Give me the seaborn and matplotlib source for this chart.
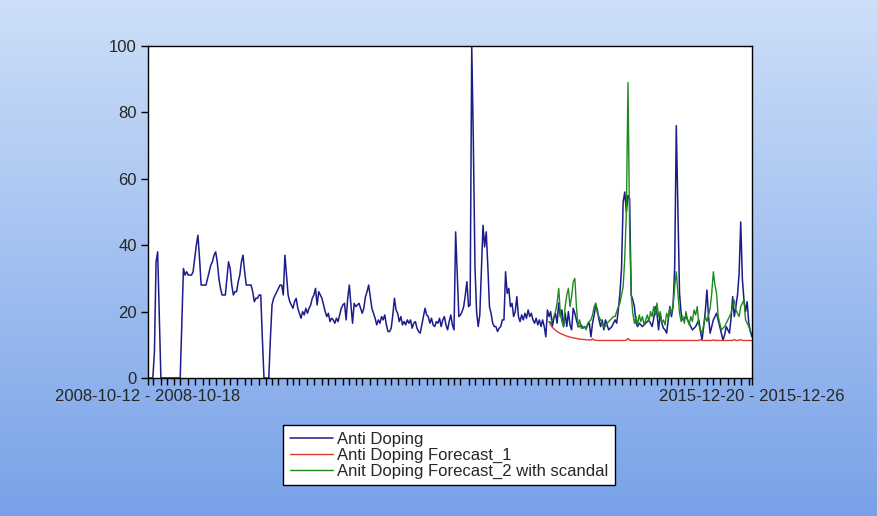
import numpy as np
import pandas as pd
import matplotlib
matplotlib.use("Agg")
import matplotlib.pyplot as plt
import seaborn as sns

# weekly series, first week 2008-10-12
start_date = "2008-10-12"

anti_doping = [
    0, 0, 0, 0, 8, 35, 38, 19, 0, 0,
    0, 0, 0, 0, 0, 0, 0, 0, 0, 0,
    0, 16, 33, 31, 32, 31, 31, 31, 32, 36,
    40, 43, 36, 28, 28, 28, 28, 30, 32, 34,
    35, 37, 38, 35, 30, 27, 25, 25, 25, 30,
    35, 33, 28, 25, 26, 26, 29, 31, 35, 37,
    32, 28, 28, 28, 28, 26, 23, 24, 24, 25,
    25, 12, 0, 0, 0, 0, 12, 22, 24, 25,
    26, 27, 28, 28, 25, 37, 31, 25, 23, 22,
    21, 23, 24, 21, 19.5, 18, 20, 19, 21, 19.5,
    21, 22, 24, 25, 27, 22, 26, 25, 24, 22,
    20, 18.5, 19.5, 17, 18, 17.5, 16.5, 18, 17, 19,
    21, 22, 22.5, 17.5, 24, 28, 22, 16.5, 22.5, 21.5,
    22, 22.5, 21, 19.5, 21, 24.5, 26, 28, 24.5, 21,
    19.5, 18, 16, 17.5, 16.5, 18.5, 17.5, 19, 16, 14,
    14, 15, 19, 24, 20.5, 19.5, 17, 18.5, 16, 17,
    16, 17.5, 16.5, 17.5, 15, 16.5, 17, 15, 14, 13.5,
    16, 18.5, 21, 19, 18.5, 16.5, 18, 16, 15.5, 17,
    16.5, 18, 15.5, 17.5, 18.5, 16, 14.5, 17, 19, 16,
    14.5, 44, 31, 18.5, 19, 20, 21.5, 25, 29, 21.5,
    22, 100, 71, 33.5, 20, 15.5, 19, 32.5, 46, 39.5,
    44, 33.5, 21.5, 19.5, 16.5, 15.5, 15.5, 14, 15, 15.5,
    17.5, 17.5, 32, 25.5, 27, 21.5, 22.5, 18.5, 20, 24.5,
    18.5, 17, 19, 17.5, 19.5, 18, 20.5, 18.5, 19.5, 17.5,
    16.5, 18, 16, 17.5, 15.5, 17.5, 15.5, 12.4, 20.5, 18.5,
    20, 15.5, 18, 19.5, 16.5, 22.6, 18.5, 20.5, 15.5, 19.5,
    15.5, 20, 16, 14.5, 21, 19.5, 17.5, 15.5, 15.5, 16,
    15, 15.5, 15, 16, 16.5, 12.4, 16.5, 19, 22, 20.5,
    17.5, 15.5, 17.5, 14.5, 17.5, 16, 14.5, 15, 15.5, 16.5,
    17.5, 16.5, 20.5, 25.5, 33, 53, 56, 50, 55, 54,
    25, 23.5, 21.5, 16.5, 15.5, 16.5, 16, 15.5, 16, 16.5,
    17, 17.5, 16.5, 15.5, 18, 21.5, 19.5, 14.5, 19.5, 16.5,
    15, 14.5, 13.5, 17.5, 21.5, 18.5, 21.5, 33.5, 76, 50,
    25.5, 19.5, 17.5, 18, 18.5, 17.5, 16.5, 15.5, 14.5, 15,
    15.5, 16.5, 17.5, 14, 11.5, 15.5, 20, 26.5, 18.5, 13.5,
    15.5, 17.5, 18.5, 19.5, 17.5, 15.5, 13.5, 11.4, 13, 15.5,
    14.5, 13.5, 18, 24.5, 18.5, 21.5, 25, 31.5, 47, 30,
    23.5, 20, 23, 16.5, 14, 12.4,
]

# forecasts start at week 249
forecast_start = 249

forecast_1 = [
    17, 16, 15.3, 14.8, 14.4, 14, 13.7, 13.4, 13.2, 13, 12.8,
    12.6, 12.5, 12.3, 12.2, 12.1, 12, 11.9, 11.8, 11.7, 11.7,
    11.6, 11.6, 11.5, 11.5, 11.5, 11.4, 11.8, 11.4, 11.4, 11.3,
    11.3, 11.3, 11.3, 11.3, 11.3, 11.3, 11.3, 11.3, 11.3, 11.3,
    11.3, 11.3, 11.3, 11.3, 11.3, 11.3, 11.3, 11.4, 11.9, 11.4,
    11.3, 11.3, 11.3, 11.3, 11.3, 11.3, 11.3, 11.3, 11.3, 11.3,
    11.3, 11.3, 11.3, 11.3, 11.3, 11.3, 11.3, 11.3, 11.4, 11.3,
    11.3, 11.3, 11.3, 11.3, 11.3, 11.3, 11.3, 11.3, 11.3, 11.3,
    11.3, 11.3, 11.3, 11.3, 11.3, 11.3, 11.3, 11.3, 11.3, 11.3,
    11.3, 11.3, 11.3, 11.6, 11.3, 11.3, 11.3, 11.3, 11.3, 11.3,
    11.3, 11.5, 11.3, 11.3, 11.3, 11.3, 11.3, 11.3, 11.3, 11.3,
    11.3, 11.3, 11.3, 11.3, 11.6, 11.3, 11.3, 11.4, 11.6, 11.3,
    11.3, 11.3, 11.3, 11.3, 11.3, 11.3,
]

forecast_2 = [
    17, 16.5, 17.5, 18.5, 20, 22.6, 27, 19.5, 17, 15.4, 21.5,
    25, 27, 21.5, 24.5, 29, 30, 21.5, 15.4, 17.5, 15,
    15, 15.4, 14.5, 16.5, 17, 17.5, 19, 21.5, 22.6, 19.5,
    18.5, 17.5, 16.5, 15.4, 15.5, 16.5, 17, 17.5, 18, 18.5,
    18.5, 20, 21.5, 22.6, 25, 27.5, 36, 50, 89, 45,
    25, 19.5, 16.5, 18.5, 16, 19, 17, 18.5, 16, 17.5,
    19, 17, 20, 18.5, 21.5, 19, 22.6, 18.5, 20, 16.5,
    17.5, 16, 19.5, 18, 21, 19.5, 22, 27.5, 32, 25.5,
    19.5, 17, 18.5, 16.5, 20, 17.5, 16, 18.5, 17, 20.5,
    19, 21.5, 16, 14.5, 13.5, 16, 18.5, 17, 19, 21,
    25.5, 32, 28, 25.5, 18.5, 16.5, 14.5, 15, 15.5, 16.5,
    17.5, 18.5, 19.5, 21.5, 23.5, 20.5, 19.5, 18.5, 21.5, 22.5,
    23.5, 17.5, 16.5, 15.5, 14, 13.5,
]

labels = ["Anti Doping", "Anti Doping Forecast_1", "Anit Doping Forecast_2 with scandal"]
colors = ["#1c1c8c", "#e03a30", "#1e8a1e"]

weeks = np.arange(len(anti_doping))
fc_weeks = np.arange(forecast_start, forecast_start + len(forecast_1))
dates = pd.date_range(start_date, periods=len(anti_doping), freq="7D")

sns.set_style("ticks")
plt.rcParams["font.family"] = ["Liberation Sans", "DejaVu Sans"]

fig = plt.figure(figsize=(8.78, 5.16), dpi=100)

# blue gradient background
bg = fig.add_axes([0, 0, 1, 1], zorder=0)
grad = np.linspace(0, 1, 256).reshape(-1, 1)
cmap = matplotlib.colors.LinearSegmentedColormap.from_list("bg", ["#cddff9", "#78a2e8"])
bg.imshow(grad, aspect="auto", cmap=cmap, extent=[0, 1, 0, 1])
bg.axis("off")

ax = fig.add_axes([148 / 878, 1 - 378 / 516, 604 / 878, 332 / 516], zorder=1)
ax.set_facecolor("white")

sns.lineplot(x=weeks, y=anti_doping, ax=ax, color=colors[0], lw=1.1, label=labels[0])
sns.lineplot(x=fc_weeks, y=forecast_1, ax=ax, color=colors[1], lw=1.0, label=labels[1])
sns.lineplot(x=fc_weeks, y=forecast_2, ax=ax, color=colors[2], lw=1.0, label=labels[2])

ax.set_xlim(0, len(anti_doping) - 1)
ax.set_ylim(0, 100)
ax.set_yticks([0, 20, 40, 60, 80, 100])
ax.set_xlabel("")
ax.set_ylabel("")

# first/last week labels, monthly minor ticks
def week_label(d):
    return d.strftime("%Y-%m-%d") + " - " + (d + pd.Timedelta(days=6)).strftime("%Y-%m-%d")

ax.set_xticks([0, len(anti_doping) - 1])
ax.set_xticklabels([week_label(dates[0]), week_label(dates[-1])])
month_ticks = [i for i in range(1, len(dates)) if dates[i].month != dates[i - 1].month]
ax.set_xticks(month_ticks, minor=True)

ax.tick_params(axis="both", which="both", length=5, width=1, color="black", direction="out")
ax.tick_params(axis="both", which="major", labelsize=12, pad=3)
for side in ["left", "right", "top", "bottom"]:
    ax.spines[side].set_visible(True)
    ax.spines[side].set_color("black")
    ax.spines[side].set_linewidth(1)

leg = ax.legend(loc="upper center", bbox_to_anchor=(449 / 878, 1 - 425 / 516),
                bbox_transform=fig.transFigure, fontsize=12, frameon=True, fancybox=False,
                edgecolor="black", framealpha=1, handlelength=2.6, handletextpad=0.2,
                labelspacing=0.05, borderpad=0.4, borderaxespad=0)
leg.get_frame().set_linewidth(1)

fig.savefig("out.png", dpi=100)
